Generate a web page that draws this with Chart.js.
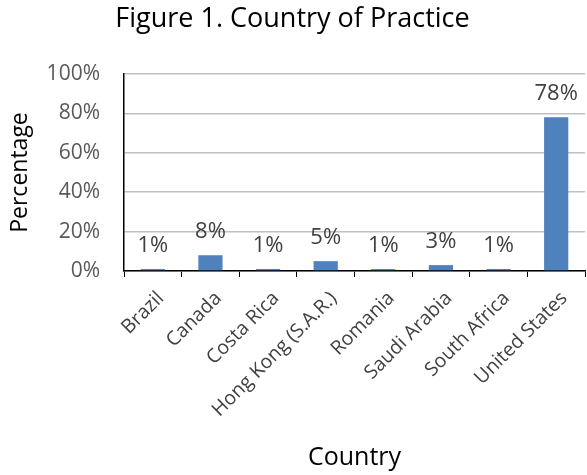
<!DOCTYPE html>
<html>
<head>
<meta charset="utf-8">
<script src="https://cdn.jsdelivr.net/npm/chart.js@4"></script>
<style>
    html, body { margin: 0; padding: 0; background: #fff; }
    #wrap { width: 587px; height: 475px; }
</style>
</head>
<body>
<div id="wrap"><canvas id="practiceChart" width="587" height="475"></canvas></div>
<script>
// Country of practice survey results (percent of respondents)
const countries = ['Brazil', 'Canada', 'Costa Rica', 'Hong Kong (S.A.R.)', 'Romania', 'Saudi Arabia', 'South Africa', 'United States'];
const percentages = [1, 8, 1, 5, 1, 3, 1, 78];
const yTicks = [0, 20, 40, 60, 80, 100];

const FONT = "'Open Sans', 'Noto Sans', sans-serif";

// Value labels above each bar
const barLabels = {
    id: 'barLabels',
    afterDatasetsDraw(chart) {
        const ctx = chart.ctx;
        const meta = chart.getDatasetMeta(0);
        ctx.save();
        ctx.font = `22px ${FONT}`;
        ctx.fillStyle = '#404040';
        ctx.textAlign = 'center';
        ctx.textBaseline = 'alphabetic';
        meta.data.forEach((bar, i) => {
            ctx.fillText(percentages[i] + '%', bar.x, bar.y - 17);
        });
        ctx.restore();
    }
};

function initChart() {
    const ctx = document.getElementById('practiceChart').getContext('2d');
    new Chart(ctx, {
        type: 'bar',
        data: {
            labels: countries,
            datasets: [{
                data: percentages,
                backgroundColor: '#4f81bd',
                barPercentage: 0.42,
                categoryPercentage: 1
            }]
        },
        options: {
            responsive: false,
            animation: false,
            layout: { padding: { left: 0, right: 2, top: 0, bottom: 0 } },
            plugins: {
                legend: { display: false },
                tooltip: { enabled: false },
                title: {
                    display: true,
                    text: 'Figure 1. Country of Practice',
                    color: '#000',
                    font: { family: FONT, size: 27, weight: 'normal', lineHeight: 1.2 },
                    padding: { top: 3, bottom: 38.6 }
                }
            },
            scales: {
                x: {
                    afterFit(scale) { scale.height = 204; },
                    grid: {
                        drawOnChartArea: false,
                        drawTicks: true,
                        tickLength: 6,
                        color: '#000',
                        offset: true
                    },
                    border: { color: '#000', width: 1.5 },
                    ticks: {
                        color: '#404040',
                        font: { family: FONT, size: 19.5 },
                        minRotation: 45,
                        maxRotation: 45,
                        padding: 10,
                        labelOffset: 8
                    },
                    title: {
                        display: true,
                        text: 'Country',
                        color: '#000',
                        font: { family: FONT, size: 25, lineHeight: 1.2 },
                        padding: { top: 0, bottom: 2 }
                    }
                },
                y: {
                    min: 0,
                    max: 100,
                    afterFit(scale) { scale.width = 124; },
                    afterBuildTicks(scale) {
                        scale.ticks = yTicks.map(v => ({ value: v }));
                    },
                    grid: {
                        color: '#c0c0c0',
                        lineWidth: 1.5,
                        drawTicks: false
                    },
                    border: { color: '#000', width: 1.5 },
                    ticks: {
                        color: '#595959',
                        font: { family: FONT, size: 21 },
                        padding: 24,
                        callback: v => v + '%'
                    },
                    title: {
                        display: true,
                        text: 'Percentage',
                        color: '#000',
                        font: { family: FONT, size: 23, lineHeight: 1.2 },
                        padding: { top: 7, bottom: 0 }
                    }
                }
            }
        },
        plugins: [barLabels]
    });
}

document.addEventListener('DOMContentLoaded', initChart);
</script>
</body>
</html>
